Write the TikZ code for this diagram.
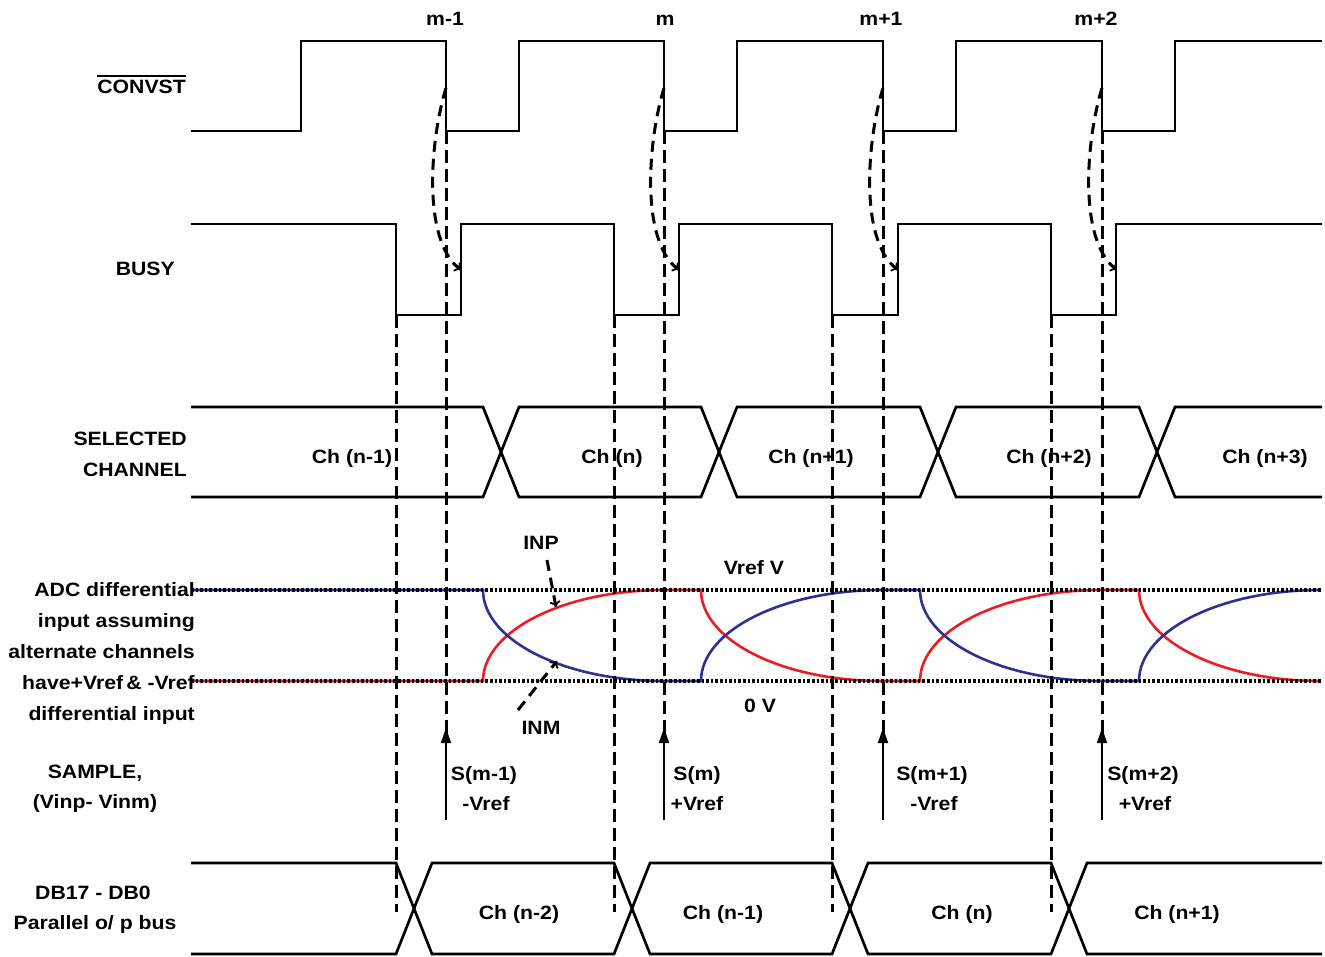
\documentclass[tikz,border=0pt]{standalone}
\usepackage{fontspec}
\setmainfont{Liberation Sans}[FakeStretch=1.1]
\usetikzlibrary{arrows.meta}
\definecolor{sigred}{RGB}{237,28,36}
\definecolor{sigblue}{RGB}{46,49,146}
\begin{document}
\begin{tikzpicture}[x=1pt,y=-1pt,
  txt/.style={font=\bfseries\fontsize{19.3}{22}\selectfont, inner sep=0pt, anchor=base},
  txtr/.style={txt, anchor=base east},
  sig/.style={line width=2.7pt, line join=miter, line cap=butt},
  vdash/.style={line width=3pt, dash pattern=on 13pt off 6pt},
  cdash/.style={line width=3pt, dash pattern=on 11pt off 7pt},
  dotl/.style={line width=3.5pt, dash pattern=on 2.6pt off 2pt},
  redsig/.style={line width=2.6pt, sigred},
  bluesig/.style={line width=2.6pt, sigblue},
  samplearrow/.style={line width=1.8pt, -{Triangle[length=15pt,width=10pt]}},
  openarrow/.style={-{To[length=6pt,width=11pt,line width=1.8pt]}}
]
\useasboundingbox (0,0) rectangle (1325,956);
\fill[white] (0,0) rectangle (1325,956);

% top labels
\node[txt] (lmm) at (445,25) {m-1};
\node[txt] (lm) at (665,25) {m};
\node[txt] (lmp) at (881,25) {m+1};
\node[txt] (lmpp) at (1096,25) {m+2};

% left labels
\node[txtr] (convst) at (186,93) {CONVST};
\draw[line width=1.8pt] ([yshift=3.5pt]convst.north west) -- ([yshift=3.5pt]convst.north east);
\node[txtr] (busy) at (175,275) {BUSY};
\node[txtr] (sel1) at (187,445) {SELECTED};
\node[txtr] (sel2) at (187,476) {CHANNEL};
\node[txtr] (adc1) at (195,596) {ADC differential};
\node[txtr] (adc2) at (195,627) {input assuming};
\node[txtr] (adc3) at (195,658) {alternate channels};
\node[txtr] (adc4) at (195,689) {have+Vref\,\& -Vref};
\node[txtr] (adc5) at (195,720) {differential input};
\node[txt] (smp1) at (95,778) {SAMPLE,};
\node[txt] (smp2) at (95,808) {(Vinp- Vinm)};
\node[txt] (db1) at (93,899) {DB17 - DB0};
\node[txt] (db2) at (95,929) {Parallel o/ p bus};

% CONVST
\draw[sig] (191,131) -- (301,131) -- (301,41) -- (446,41) -- (446,131) -- (519,131) -- (519,41) -- (664,41) -- (664,131) -- (737,131) -- (737,41) -- (883,41) -- (883,131) -- (956,131) -- (956,41) -- (1102,41) -- (1102,131) -- (1175,131) -- (1175,41) -- (1322,41);

% BUSY
\draw[sig] (191,224) -- (396,224) -- (396,315) -- (461,315) -- (461,224) -- (614,224) -- (614,315) -- (679,315) -- (679,224) -- (832,224) -- (832,315) -- (898,315) -- (898,224) -- (1051,224) -- (1051,315) -- (1116,315) -- (1116,224) -- (1322,224);

% SELECTED CHANNEL bus
\draw[sig] (191,407) -- (483,407) -- (519,497) -- (701,497) -- (737,407) -- (920,407) -- (956,497) -- (1139,497) -- (1175,407) -- (1322,407);
\draw[sig] (191,497) -- (483,497) -- (519,407) -- (701,407) -- (737,497) -- (920,497) -- (956,407) -- (1139,407) -- (1175,497) -- (1322,497);
\node[txt] (chA) at (352,463) {Ch (n-1)};
\node[txt] (chB) at (612,463) {Ch (n)};
\node[txt] (chC) at (811,463) {Ch (n+1)};
\node[txt] (chD) at (1049,463) {Ch (n+2)};
\node[txt] (chE) at (1265,463) {Ch (n+3)};

% DB bus
\draw[sig] (191,863) -- (396,863) -- (432,954) -- (614,954) -- (650,863) -- (832,863) -- (868,954) -- (1051,954) -- (1087,863) -- (1322,863);
\draw[sig] (191,954) -- (396,954) -- (432,863) -- (614,863) -- (650,954) -- (832,954) -- (868,863) -- (1051,863) -- (1087,954) -- (1322,954);
\node[txt] (dbA) at (519,919) {Ch (n-2)};
\node[txt] (dbB) at (723,919) {Ch (n-1)};
\node[txt] (dbC) at (962,919) {Ch (n)};
\node[txt] (dbD) at (1177,919) {Ch (n+1)};

% ADC differential input
\draw[redsig] (191,681) -- (483,681) .. controls (483,631) and (564,590) .. (664,590) -- (701,590) .. controls (701,640) and (782,681) .. (882,681) -- (920,681) .. controls (920,631) and (1001,590) .. (1101,590) -- (1139,590) .. controls (1139,640) and (1220,681) .. (1320,681);
\draw[bluesig] (191,590) -- (483,590) .. controls (483,640) and (564,681) .. (664,681) -- (701,681) .. controls (701,631) and (782,590) .. (882,590) -- (920,590) .. controls (920,640) and (1001,681) .. (1101,681) -- (1139,681) .. controls (1139,631) and (1220,590) .. (1320,590);
\coordinate (vrefL) at (191,590);
\coordinate (vrefR) at (1322,590);
\coordinate (zeroL) at (191,681);
\coordinate (zeroR) at (1322,681);
\draw[dotl] (vrefL) -- (vrefR);
\draw[dotl] (zeroL) -- (zeroR);
\node[txt] (vrefv) at (754,574) {Vref V};
\node[txt] (zerov) at (760,712) {0 V};
\node[txt] (inp) at (541,549) {INP};
\node[txt] (inm) at (541,734) {INM};
\coordinate (inpT) at (556,607);
\coordinate (inmT) at (557,661);
\draw[cdash, openarrow] (547,560) -- (inpT);
\draw[cdash, openarrow] (518,710) -- (inmT);

% dashed verticals from BUSY falling edges
\foreach \x in {396,614,832,1051} {
  \coordinate (bt\x) at (\x,315);
  \coordinate (bb\x) at (\x,912);
  \draw[vdash] (bt\x) -- (bb\x);
}

% dashed verticals from CONVST falling edges and sample arrows
\foreach \x in {446,664,883,1102} {
  \coordinate (ct\x) at (\x,131);
  \coordinate (cb\x) at (\x,738);
  \draw[vdash] (ct\x) -- (cb\x);
  \coordinate (sb\x) at (\x,820);
  \coordinate (st\x) at (\x,728);
  \draw[samplearrow] (sb\x) -- (st\x);
  \coordinate (f\x) at (\x,88);
  \coordinate (r\x) at (\x+15,270);
  \draw[cdash, openarrow] (f\x) .. controls (\x-16,140) and (\x-24,240) .. (r\x);
}

% sample labels
\node[txt] (s1) at (484,780) {S(m-1)};
\node[txt] (s1v) at (486,810) {-Vref};
\node[txt] (s2) at (697,780) {S(m)};
\node[txt] (s2v) at (697,810) {+Vref};
\node[txt] (s3) at (932,780) {S(m+1)};
\node[txt] (s3v) at (934,810) {-Vref};
\node[txt] (s4) at (1143,780) {S(m+2)};
\node[txt] (s4v) at (1145,810) {+Vref};
\end{tikzpicture}
\end{document}
